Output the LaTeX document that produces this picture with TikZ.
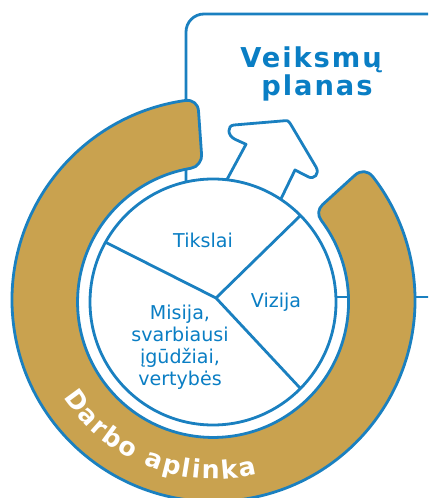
\documentclass[tikz,border=0pt]{standalone}
\usepackage{fontspec}
\setmainfont{DejaVu Sans}
\usetikzlibrary{decorations.text}
\definecolor{lineblue}{HTML}{1A80C0}
\definecolor{textblue}{HTML}{0A7EC4}
\definecolor{gold}{HTML}{C9A24F}
\tikzset{
  bl/.style={draw=lineblue,line width=2.1pt,line join=round},
  lab/.style={text=textblue,align=center,font=\fontsize{14.3pt}{16.6pt}\selectfont,inner sep=0pt},
  title/.style={text=textblue,align=center,inner sep=0pt,
    font=\fontsize{20.5pt}{18pt}\selectfont\bfseries\addfontfeatures{LetterSpace=7}},
}
\begin{document}
\begin{tikzpicture}[x=0.75pt,y=0.75pt]
\useasboundingbox (0,0) rectangle (428,-498);
\clip (0,0) rectangle (428,-498);
% action-plan frame
\coordinate (fa) at (186,-190);
\coordinate (fb) at (186,-14);
\coordinate (fc) at (429,-14);
\coordinate (fd) at (336,-297);
\coordinate (fe) at (429,-297);
\draw[bl,rounded corners=13.5pt] (fa) -- (fb) -- (fc);
\draw[bl] (fd) -- (fe);
% work-environment ring
\draw[bl,fill=gold]
  (213.5,-300) ++(98:201.5) arc[start angle=98,end angle=397.8,radius=201.5]
  .. controls (367.7,-170.5) and (360.6,-170) .. (354.8,-175.3)
  -- (322.6,-204.6)
  .. controls (317.8,-209) and (317.3,-215.4) .. (321.4,-220.6)
  arc[start angle=396.9,end angle=99.5,radius=135.5]
  .. controls (197.7,-167.6) and (202.1,-159.8) .. (201.6,-155)
  -- (198.5,-111)
  .. controls (198,-103.8) and (192.6,-99.6) .. cycle;
% arrow
\coordinate (a1) at (224,-185);
\coordinate (a2) at (246,-144.3);
\coordinate (a7) at (295,-170);
\coordinate (a8) at (278,-205);
\draw[bl,fill=white] (a1) -- (a2) -- (235,-139.3)
  .. controls (227,-135.5) and (227,-125.5) .. (234,-125)
  -- (284,-120.8)
  .. controls (288,-120.5) .. (290.5,-124)
  -- (316,-167)
  .. controls (320,-174) and (314,-180) .. (308,-176.7)
  -- (a7) -- (a8);
% hub
\coordinate (hc) at (213,-302);
\coordinate (hub) at (216,-298);
\coordinate (s1) at (105,-242);
\coordinate (s2) at (301,-215);
\coordinate (s3) at (300,-388);
\draw[bl,fill=white] (hc) circle[radius=123];
\draw[bl] (s1) -- (hub) -- (s3);
\draw[bl] (hub) -- (s2);
% labels
\node[lab] (t1) at (203,-240) {Tikslai};
\node[lab] (t2) at (276,-302) {Vizija};
\node[lab] (t3) at (180,-347) {Misija,\\svarbiausi\\įgūdžiai,\\vertybės};
\node[title] (t4) at (311,-74) {Veiksmų\\\hspace{9pt}planas};
\path[postaction={decorate,decoration={text along path,text align=fit to path,
   text={|\fontsize{19pt}{21pt}\selectfont\bfseries\color{white}|Darbo aplinka}}}]
  (213.5,-300) ++(213:179) arc[start angle=213,end angle=284,radius=179];
\end{tikzpicture}
\end{document}
